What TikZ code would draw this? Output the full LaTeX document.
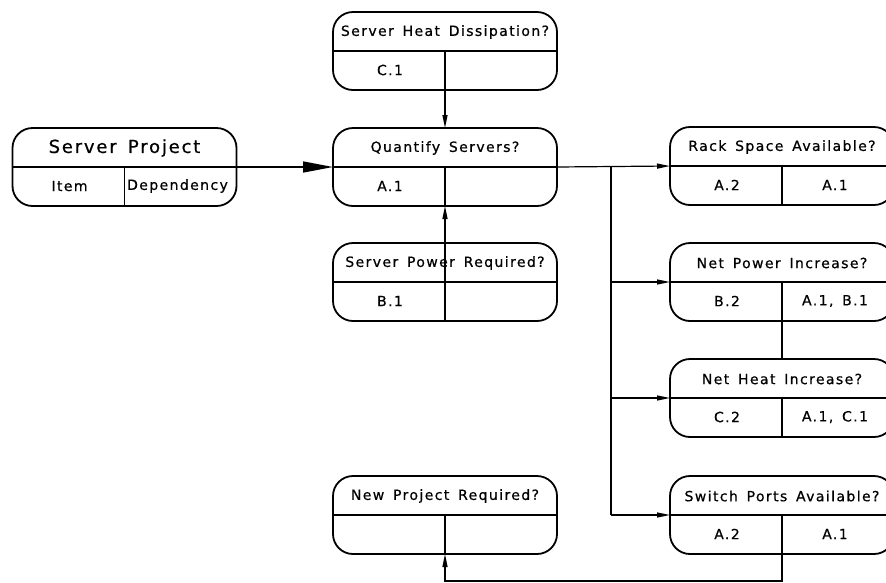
\documentclass[tikz,border=0pt]{standalone}
\usepackage{fontspec}
\usetikzlibrary{calc,arrows.meta}
\newfontfamily\cadfont[LetterSpace=10,WordSpace=1.5,FakeBold=0.6]{DejaVu Sans}
\newcommand\cadsmall{\cadfont\fontsize{14}{16}\selectfont}
\newcommand\cadbig{\cadfont\fontsize{18}{20}\selectfont}
\tikzset{
  cadbox/.style={draw, line width=1.8pt, rounded corners=20pt, minimum width=224pt,
    minimum height=78pt, inner sep=0pt, outer sep=0pt},
  sepline/.style={line width=1.3pt},
  conn/.style={line width=1.2pt, -{Triangle[length=13pt,width=5pt]}},
  plainline/.style={line width=1.2pt},
  bigarrow/.style={line width=1.4pt, -{Triangle[length=30pt,width=11pt]}},
  txt/.style={inner sep=0pt, font=\cadsmall},
}
\newcommand\cadbox[7]{%
  \node[cadbox] (#1) at (#2,#3+39) {};
  \draw[sepline] (#1.west) -- (#1.east);
  \draw[sepline] (#1.center) -- (#1.south);
  \node[txt,font=#5] (#1-t) at ($(#1.center)+(0,-19)$) {#4};
  \if\relax\detokenize{#6}\relax\else\node[txt] (#1-l) at ($(#1.center)+(-55,19)$) {#6};\fi
  \if\relax\detokenize{#7}\relax\else\node[txt] (#1-r) at ($(#1.center)+(53,19)$) {#7};\fi
}
\begin{document}
\begin{tikzpicture}[x=1pt,y=-1pt]
\useasboundingbox[fill=white] (0,0) rectangle (886,582);
\cadbox{sp}{124.5}{128}{Server Project}{\cadbig}{Item}{Dependency}
\cadbox{heat}{445}{12}{Server Heat Dissipation?}{\cadsmall}{C.1}{}
\cadbox{qs}{445}{128}{Quantify Servers?}{\cadsmall}{A.1}{}
\cadbox{pow}{445}{243}{Server Power Required?}{\cadsmall}{B.1}{}
\cadbox{newp}{445}{476}{New Project Required?}{\cadsmall}{}{}
\cadbox{rack}{782}{127}{Rack Space Available?}{\cadsmall}{A.2}{A.1}
\cadbox{np}{782}{243}{Net Power Increase?}{\cadsmall}{B.2}{A.1, B.1}
\cadbox{nh}{782}{359}{Net Heat Increase?}{\cadsmall}{C.2}{A.1, C.1}
\cadbox{sw}{782}{476}{Switch Ports Available?}{\cadsmall}{A.2}{A.1}
% connectors
\draw[bigarrow] (sp.east) -- (qs.west);
\draw[conn] (heat.center) -- (qs.north);
\draw[conn] (pow.center) -- (qs.south);
\coordinate (br) at (611,167);
\draw[conn] (qs.east) -- (rack.west);
\draw[plainline] (br) -- (br |- sw.west);
\draw[conn] (br |- np.west) -- (np.west);
\draw[conn] (br |- nh.west) -- (nh.west);
\draw[conn] (br |- sw.west) -- (sw.west);
\draw[plainline] (np.south) -- (nh.north);
\draw[conn] (sw.south) -- ++(0,27) -| (newp.south);
\end{tikzpicture}
\end{document}
